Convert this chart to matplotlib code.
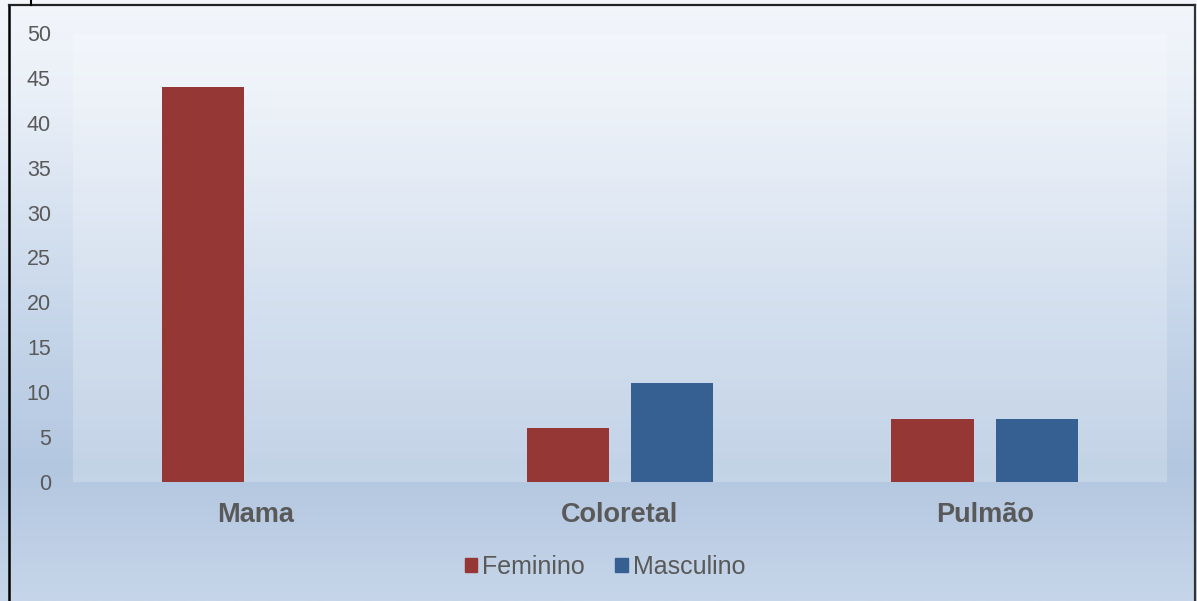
import numpy as np
import matplotlib
matplotlib.use("Agg")
import matplotlib.pyplot as plt
from matplotlib.colors import LinearSegmentedColormap
from matplotlib.patches import Patch
from matplotlib.lines import Line2D

categories = ["Mama", "Coloretal", "Pulmão"]
feminino = [44, 6, 7]
masculino = [0, 11, 7]
series_names = ["Feminino", "Masculino"]
yticks = [0, 5, 10, 15, 20, 25, 30, 35, 40, 45, 50]

RED = "#953735"
BLUE = "#376092"
TEXT = "#595959"

plt.rcParams['font.family'] = ['Liberation Sans', 'DejaVu Sans']

fig = plt.figure(figsize=(11.97, 6.01), dpi=100)

# background gradient for the whole chart area
bg = fig.add_axes([0, 0, 1, 1], zorder=-10)
grad_cmap = LinearSegmentedColormap.from_list(
    "excel_bg",
    [(0.0, "#f3f6fb"), (0.15, "#eaf0f8"), (0.5, "#c9d8eb"),
     (0.78, "#b3c7e0"), (1.0, "#c6d5e9")])
bg.imshow(np.linspace(0, 1, 256).reshape(-1, 1), aspect="auto", cmap=grad_cmap,
          extent=[0, 1, 0, 1], origin="upper")
bg.set_xlim(0, 1)
bg.set_ylim(0, 1)
bg.axis("off")

# frame lines (left, top, right) and small clipped mark at the top
W, H = 1197, 601
bg.add_line(Line2D([8.5 / W, 8.5 / W], [0, 1 - 5 / H], color="black", lw=1.8))
bg.add_line(Line2D([8.5 / W, 1195 / W], [1 - 5 / H, 1 - 5 / H], color="#222222", lw=1.6))
bg.add_line(Line2D([1195 / W, 1195 / W], [0, 1 - 5 / H], color="#333333", lw=1.6))
bg.add_line(Line2D([31 / W, 31 / W], [1 - 5 / H, 1], color="black", lw=1.5))

ax = fig.add_axes([73 / W, 1 - 481.5 / H, (1167 - 73) / W, (481.5 - 33.5) / H])
ax.set_facecolor((1, 1, 1, 0.22))

x = np.arange(len(categories))
width = 0.225
offset = 0.143
ax.bar(x - offset, feminino, width, color=RED, label=series_names[0], zorder=3)
ax.bar(x + offset, masculino, width, color=BLUE, label=series_names[1], zorder=3)

ax.set_xlim(-0.5, len(categories) - 0.5)
ax.set_ylim(0, 50)
ax.set_yticks(yticks)
ax.set_xticks(x)
ax.set_xticklabels(categories, fontsize=19.5, fontweight="bold", color=TEXT)
ax.tick_params(axis="y", length=0, pad=16, labelsize=15.5, labelcolor=TEXT)
ax.tick_params(axis="x", length=0, pad=15)
for s in ax.spines.values():
    s.set_visible(False)

handles = [Patch(color=RED), Patch(color=BLUE)]
fig.legend(handles, series_names, loc="center", bbox_to_anchor=(605 / W, 1 - 567 / H),
           ncol=2, frameon=False, prop={"size": 18, "weight": "medium"}, labelcolor=TEXT,
           handlelength=0.5, handleheight=0.5, handletextpad=0.2,
           columnspacing=1.2)

fig.savefig("out.png", dpi=100)
